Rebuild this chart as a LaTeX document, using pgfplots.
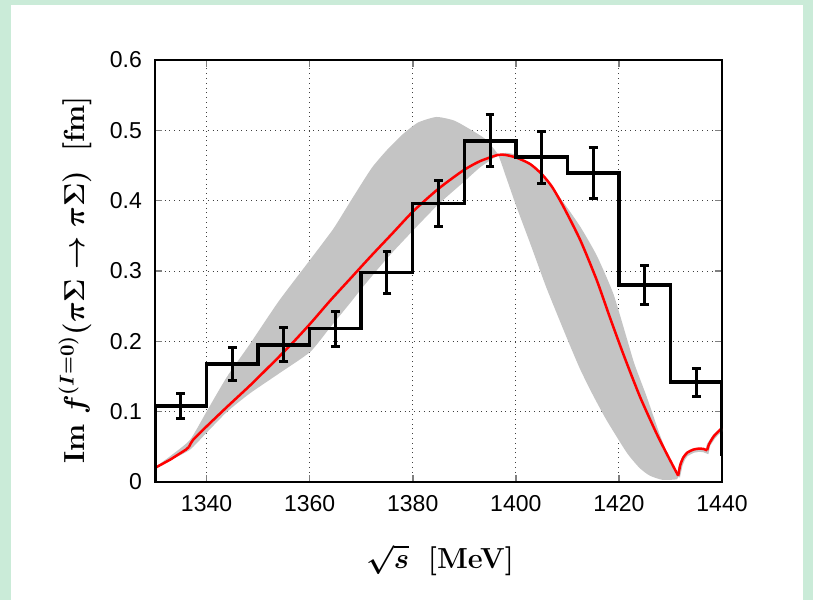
\documentclass[border=0pt]{standalone}
\usepackage{pgfplots}
\pgfplotsset{compat=1.18}
\usepackage{fontspec}
\setsansfont{Liberation Sans}
\definecolor{framegreen}{RGB}{202,235,216}
\definecolor{bandgray}{RGB}{196,196,196}
% extra braces keep \boldmath's \aftergroup inside the node box
\newcommand\xlab{{\boldmath$\sqrt{s}$\ \ \textbf{[MeV]}}}
\newcommand\ylab{{\boldmath\textbf{Im} $f^{(I=0)}(\pi\Sigma\rightarrow\pi\Sigma)$\ \ \textbf{[fm]}}}

\begin{document}
\begin{tikzpicture}
\fill[framegreen] (0pt,0pt) rectangle (406.5pt,300pt);
\fill[white] (5.5pt,0pt) rectangle (401.5pt,297.5pt);
\begin{axis}[
    at={(77.5pt,59pt)}, anchor=south west,
    scale only axis, width=283.5pt, height=211pt,
    xmin=1330, xmax=1440, ymin=0, ymax=0.6,
    xtick={1340,1360,1380,1400,1420,1440},
    xticklabels={1340,1360,1380,1400,1420,1440},
    ytick={0,0.1,0.2,0.3,0.4,0.5,0.6},
    yticklabels={0,0.1,0.2,0.3,0.4,0.5,0.6},
    tick label style={font=\sffamily\fontsize{11.5}{13}\selectfont},
    xticklabel style={yshift=-3pt},
    yticklabel style={xshift=-3pt},
    tick align=inside, major tick length=3.5pt,
    tick style={line width=0.8pt},
    axis line style={line width=1pt},
    grid=major,
    major grid style={dotted, black!75, line width=0.5pt},
]
\addplot[fill=bandgray, draw=none, smooth, tension=0.35] coordinates {
 (1330,0.021) (1333,0.037) (1336.8,0.060) (1340,0.100) (1344,0.150)
 (1348.4,0.196) (1354,0.257) (1360.1,0.316) (1364.6,0.360) (1368,0.400)
 (1372,0.446) (1375,0.472) (1378,0.494) (1381,0.511) (1384.6,0.519)
 (1388,0.514) (1391,0.502) (1394,0.488) (1396.5,0.466)
 (1398,0.436) (1400,0.394) (1403,0.335) (1406,0.275)
 (1410,0.203) (1412.5,0.160) (1415,0.123) (1417.6,0.088) (1421.5,0.042)
 (1424,0.020) (1426,0.009) (1428.5,0.003) (1431.3,0.004)
 (1431.3,0.010) (1430,0.030) (1428,0.066) (1425.4,0.121) (1423,0.168)
 (1421.5,0.205) (1418.9,0.268) (1415.7,0.322) (1412.5,0.363) (1409,0.400)
 (1406,0.429) (1403,0.450) (1400,0.465) (1398,0.468) (1396,0.462)
 (1393,0.447) (1389.8,0.426) (1385,0.395) (1380.1,0.358) (1375,0.318)
 (1370.4,0.278) (1367.8,0.254) (1364,0.220) (1360.1,0.185) (1354,0.154)
 (1348.4,0.126) (1344,0.100) (1340,0.070) (1336.8,0.046) (1333,0.031)
 (1330,0.019)
};
\addplot[bandgray, line width=1.8pt] coordinates {
 (1431.5,0.007) (1432.0,0.024) (1432.5,0.033) (1433.1,0.039) (1434.4,0.044)
 (1435.5,0.0455) (1436.4,0.045) (1437.1,0.043) (1437.4,0.053) (1438.4,0.064)
 (1439.2,0.070) (1440,0.075)
};
% red curve, split at the threshold cusps
\addplot[red, line width=1.25pt] coordinates {
 (1330,0.020) (1333,0.032) (1336,0.046) (1336.6,0.050)
};
\addplot[red, line width=1.25pt, smooth, tension=0.4] coordinates {
 (1336.6,0.050) (1337.4,0.060)
 (1340,0.079) (1344,0.107) (1348.4,0.137) (1352,0.163) (1356.2,0.194)
 (1360.1,0.225) (1364,0.258) (1368,0.290) (1372,0.322) (1376,0.353)
 (1380.1,0.385) (1385,0.417) (1389.8,0.443) (1393,0.456) (1396.5,0.465)
 (1398,0.465) (1400.2,0.461) (1402.8,0.452) (1405,0.438) (1407,0.420)
 (1409.2,0.392) (1412.5,0.344) (1415.7,0.287) (1418.3,0.233) (1421,0.179)
 (1424.1,0.121) (1427.3,0.069) (1429.5,0.037) (1431.5,0.009)
};
\addplot[red, line width=1.25pt, smooth, tension=0.4] coordinates {
 (1431.5,0.009) (1431.9,0.024) (1432.5,0.035) (1433.3,0.042)
 (1434.4,0.046) (1435.5,0.0475) (1436.4,0.047) (1437.1,0.045)
};
\addplot[red, line width=1.25pt, smooth, tension=0.4] coordinates {
 (1437.1,0.045) (1437.5,0.054) (1438.4,0.065) (1439.2,0.071) (1440,0.077)
};
% histogram
\addplot[black, line width=1.75pt, const plot mark left] coordinates {
 (1330,0) (1330,0.108) (1340,0.168) (1350,0.195) (1360,0.218) (1370,0.298)
 (1380,0.396) (1390,0.485) (1400,0.462) (1410,0.439) (1420,0.280)
 (1430,0.142) (1440,0.142) (1440,0.037)
};
% data points with errors
\addplot[black, only marks, mark=*, mark size=0.8pt,
    error bars/.cd, y dir=both, y explicit,
    error bar style={line width=1.5pt},
    error mark options={rotate=90, line width=1.5pt, mark size=2.2pt}]
    coordinates {
 (1335,0.108) +- (0,0.018)
 (1345,0.168) +- (0,0.023)
 (1355,0.195) +- (0,0.024)
 (1365,0.218) +- (0,0.025)
 (1375,0.298) +- (0,0.030)
 (1385,0.396) +- (0,0.033)
 (1395,0.485) +- (0,0.037)
 (1405,0.462) +- (0,0.037)
 (1415,0.439) +- (0,0.036)
 (1425,0.280) +- (0,0.028)
 (1435,0.142) +- (0,0.020)
};
\end{axis}
\node[font=\fontsize{14.5}{16}\selectfont] at (220pt,20pt) {\xlab};
\node[font=\fontsize{14.5}{16}\selectfont, rotate=90] at (37.5pt,160pt) {\ylab};
\end{tikzpicture}
\end{document}
